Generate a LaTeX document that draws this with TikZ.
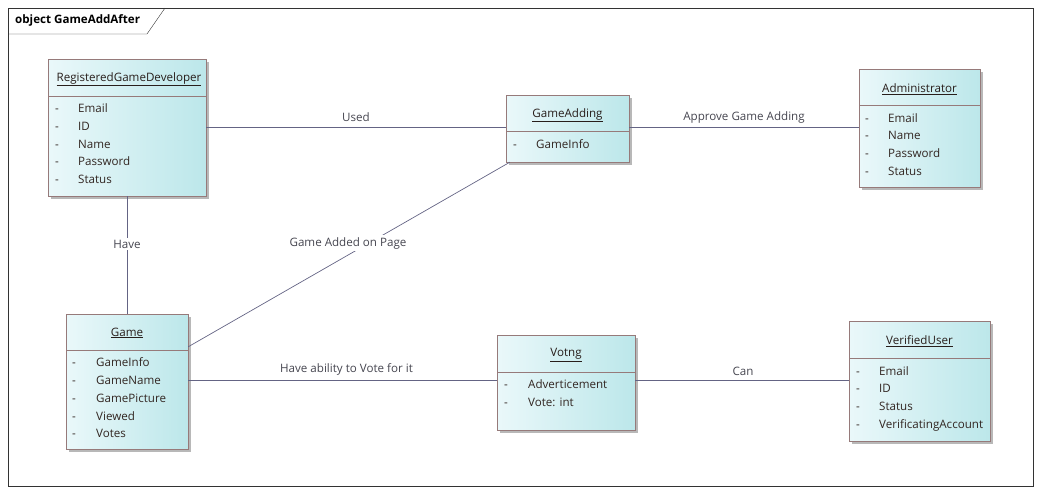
\documentclass[tikz,border=0pt]{standalone}
\usepackage{fontspec}
\setmainfont{Open Sans}
\usetikzlibrary{shadows,calc}
\definecolor{boxleft}{RGB}{234,248,250}
\definecolor{boxright}{RGB}{188,231,234}
\definecolor{boxedge}{RGB}{150,122,122}
\definecolor{linkcol}{RGB}{100,100,132}
\definecolor{txtcol}{RGB}{50,38,34}
\definecolor{lblcol}{RGB}{70,70,80}

\tikzset{
  umlbox/.style={draw=boxedge, left color=boxleft, right color=boxright, inner sep=0pt,
    drop shadow={shadow xshift=3pt, shadow yshift=-3pt, fill=black!28, opacity=1}},
  sep/.style={draw=boxedge},
  title/.style={text=txtcol!80!black, inner sep=0pt},
  attr/.style={anchor=west, text=txtcol, inner sep=0pt, text height=8.5pt, text depth=2.5pt},
  link/.style={draw=linkcol, line width=0.7pt},
  lbl/.style={text=lblcol}
}

\begin{document}
\begin{tikzpicture}[x=1pt,y=-1pt,font=\fontsize{11.6}{13}\selectfont]
  \useasboundingbox (0,0) rectangle (1041,493);
  % frame
  \draw[black!80] (8,8) rectangle (1033,486);
  \draw[black!80] (8,34) -- (147,34) -- (165,8);
  \node[anchor=west, inner sep=0pt, font=\fontsize{11.6}{13}\selectfont\bfseries] (frame) at (15,20) {object GameAddAfter};

  % RegisteredGameDeveloper
  \node[umlbox, minimum width=158, minimum height=137] (rgd) at (127,127.5) {};
  \draw[sep] (48,96) -- (206,96);
  \node[title] (rgd-t) at (129,79) {\underline{RegisteredGameDeveloper}};
  \foreach \y/\a in {109/Email,127/ID,145/Name,162/Password,180/Status} {
    \node[attr] at (55,\y) {-};
    \node[attr] at (78,\y) {\a};
  }

  % GameAdding
  \node[umlbox, minimum width=123, minimum height=67] (ga) at (567.5,128.5) {};
  \draw[sep] (506,131) -- (629,131);
  \node[title] (ga-t) at (567.5,115) {\underline{GameAdding}};
  \node[attr] at (513,145) {-};
  \node[attr] at (536,145) {GameInfo};

  % Administrator
  \node[umlbox, minimum width=121, minimum height=118] (adm) at (919.5,128) {};
  \draw[sep] (859,105) -- (980,105);
  \node[title] (adm-t) at (919.5,89) {\underline{Administrator}};
  \foreach \y/\a in {119/Email,136/Name,154/Password,172/Status} {
    \node[attr] at (865,\y) {-};
    \node[attr] at (888,\y) {\a};
  }

  % Game
  \node[umlbox, minimum width=122, minimum height=135] (game) at (127,381.5) {};
  \draw[sep] (66,350) -- (188,350);
  \node[title] (game-t) at (127,333) {\underline{Game}};
  \foreach \y/\a in {363/GameInfo,381/GameName,399/GamePicture,417/Viewed,434/Votes} {
    \node[attr] at (72,\y) {-};
    \node[attr] at (96,\y) {\a};
  }

  % Votng
  \node[umlbox, minimum width=138, minimum height=95] (vot) at (566,382.5) {};
  \draw[sep] (497,372) -- (635,372);
  \node[title] (vot-t) at (566,355) {\underline{Votng}};
  \foreach \y/\a in {385/Adverticement,403/{Vote: int}} {
    \node[attr] at (504,\y) {-};
    \node[attr] at (528,\y) {\a};
  }

  % VerifiedUser
  \node[umlbox, minimum width=141, minimum height=120] (vu) at (919.5,381) {};
  \draw[sep] (849,358) -- (990,358);
  \node[title] (vu-t) at (919.5,341) {\underline{VerifiedUser}};
  \foreach \y/\a in {372/Email,389/ID,407/Status,425/VerificatingAccount} {
    \node[attr] at (856,\y) {-};
    \node[attr] at (879,\y) {\a};
  }

  % connectors
  \draw[link] (rgd.east) -- (ga.west |- rgd.east) node[lbl, midway, above=2pt] {Used};
  \draw[link] (ga.east |- rgd.east) -- (adm.west |- rgd.east) node[lbl, midway, above=1pt] {Approve Game Adding};
  \draw[link] (rgd.south) -- (game.north) node[lbl, midway, fill=white, inner sep=2pt, yshift=11pt] {Have};
  \coordinate (gap1) at ($(game.north east)+(0,33)$);
  \coordinate (gap2) at ($(ga.south west)+(4,0)$);
  \draw[link] (gap1) -- (gap2) node[lbl, midway, fill=white, inner sep=2pt, xshift=-1pt, yshift=11.5pt] {Game Added on Page};
  \draw[link] ($(game.east)+(0,-1.5)$) -- ($(vot.west)+(0,-2.5)$) node[lbl, midway, above=1pt, xshift=4pt] {Have ability to Vote for it};
  \draw[link] ($(vot.east)+(0,-2.5)$) -- ($(vu.west)+(0,-1)$) node[lbl, midway, above=1pt, xshift=1pt] {Can};
\end{tikzpicture}
\end{document}
